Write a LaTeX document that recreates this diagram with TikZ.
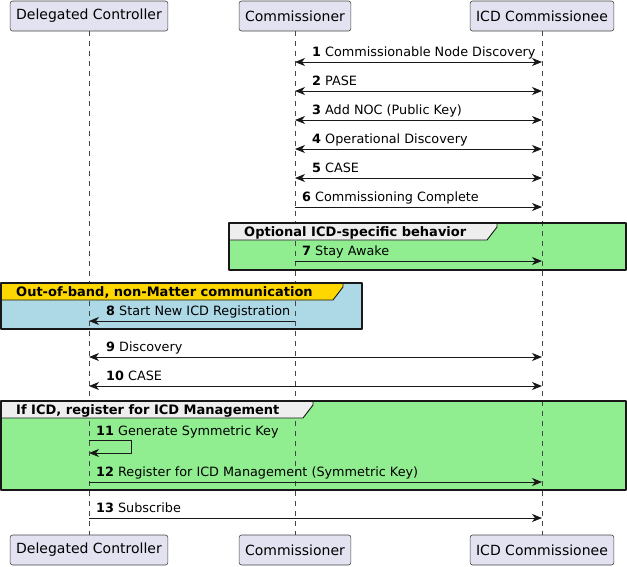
\documentclass[tikz,border=0pt]{standalone}
\usepackage{fontspec}
\setmainfont{DejaVu Sans}
\usetikzlibrary{arrows.meta}
\definecolor{boxfill}{HTML}{E2E2F0}
\definecolor{ink}{HTML}{181818}
\definecolor{grpgreen}{HTML}{90EE90}
\definecolor{grpblue}{HTML}{ADD8E6}
\definecolor{grpgold}{HTML}{FFD700}
\definecolor{tabgray}{HTML}{EEEEEE}
\tikzset{
  party/.style={draw=ink!80, line width=0.6pt, fill=boxfill, rounded corners=2.5pt,
    minimum height=30pt, inner xsep=6pt, font=\fontsize{14}{16}\selectfont},
  lifeline/.style={draw=ink!80, line width=0.5pt, dash pattern=on 5pt off 5pt},
  msg/.style={draw=ink, line width=0.9pt, -{Stealth[length=10pt,width=8pt,inset=3pt]}},
  dmsg/.style={msg, {Stealth[length=10pt,width=8pt,inset=3pt]}-{Stealth[length=10pt,width=8pt,inset=3pt]}},
  msgtxt/.style={anchor=base west, inner sep=0pt, font=\fontsize{12.8}{15}\selectfont},
  grpbox/.style={draw=ink, line width=1.5pt},
  grptab/.style={draw=ink, line width=0.9pt},
  grptitle/.style={anchor=base west, inner sep=0pt, font=\bfseries\fontsize{13}{15}\selectfont}
}
\begin{document}
\begin{tikzpicture}[x=1pt,y=-1pt,line join=round]
\useasboundingbox (0,0) rectangle (627,566);
% participants, top and bottom
\node[party] (dc) at (89,16) {Delegated Controller};
\node[party] (cm) at (295,16) {Commissioner};
\node[party] (icd) at (542,16) {ICD Commissionee};
\node[party] (dcb) at (89,550) {Delegated Controller};
\node[party] (cmb) at (295,550) {Commissioner};
\node[party] (icdb) at (542,550) {ICD Commissionee};
% group backgrounds
\fill[grpgreen] (229,223) rectangle (626,270);
\fill[grpblue] (1,283) rectangle (362,329);
\fill[grpgreen] (1,401) rectangle (626,490);
% lifelines
\draw[lifeline] (dc) -- (dcb);
\draw[lifeline] (cm) -- (cmb);
\draw[lifeline] (icd) -- (icdb);
% group tabs and frames
\draw[grptab, fill=tabgray] (229,223) -- (497,223) -- (497,227) -- (487,240) -- (229,240);
\node[grptitle] (g1) at (244,236) {Optional ICD-specific behavior};
\draw[grpbox] (229,223) rectangle (626,270);
\draw[grptab, fill=grpgold] (1,283) -- (343,283) -- (343,287) -- (333,300) -- (1,300);
\node[grptitle] (g2) at (16,296) {Out-of-band, non-Matter communication};
\draw[grpbox] (1,283) rectangle (362,329);
\draw[grptab, fill=tabgray] (1,401) -- (313,401) -- (313,405) -- (303,418) -- (1,418);
\node[grptitle] (g3) at (16,414) {If ICD, register for ICD Management};
\draw[grpbox] (1,401) rectangle (626,490);
% Commissioner <-> ICD Commissionee
\foreach \y/\n/\txt in {62/1/Commissionable Node Discovery, 91/2/PASE,
  120/3/Add NOC (Public Key), 149/4/Operational Discovery, 178/5/CASE}
{\draw[dmsg] (cm |- 0,\y) -- (icd |- 0,\y);
 \node[msgtxt, xshift=17pt, yshift=5.5pt] (l\n) at (cm |- 0,\y) {\textbf{\n} \txt};}
\foreach \y/\n/\txt in {207/6/Commissioning Complete, 261/7/Stay Awake}
{\draw[msg] (cm |- 0,\y) -- (icd |- 0,\y);
 \node[msgtxt, xshift=7pt, yshift=5.5pt] (l\n) at (cm |- 0,\y) {\textbf{\n} \txt};}
% Commissioner -> Delegated Controller
\draw[msg] (cm |- 0,321) -- (dc |- 0,321);
\node[msgtxt, xshift=17pt, yshift=5.5pt] (l8) at (dc |- 0,321) {\textbf{8} Start New ICD Registration};
\foreach \y/\n/\txt in {357/9/Discovery, 386/10/CASE}
{\draw[dmsg] (dc |- 0,\y) -- (icd |- 0,\y);
 \node[msgtxt, xshift=17pt, yshift=5.5pt] (l\n) at (dc |- 0,\y) {\textbf{\n} \txt};}
% self message
\draw[msg] (dc |- 0,440) -- ++(42,0) -- ++(0,13) -- (dc |- 0,453);
\node[msgtxt, xshift=7pt, yshift=5pt] (l11) at (dc |- 0,440) {\textbf{11} Generate Symmetric Key};
\foreach \y/\n/\txt in {482/12/Register for ICD Management (Symmetric Key), 518/13/Subscribe}
{\draw[msg] (dc |- 0,\y) -- (icd |- 0,\y);
 \node[msgtxt, xshift=7pt, yshift=5.5pt] (l\n) at (dc |- 0,\y) {\textbf{\n} \txt};}
\end{tikzpicture}
\end{document}
